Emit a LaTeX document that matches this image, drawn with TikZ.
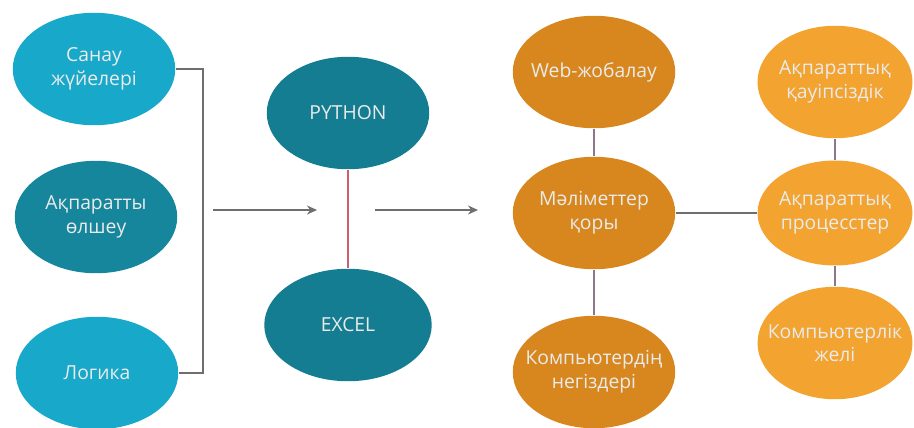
\documentclass[tikz,border=0pt]{standalone}
\usepackage{fontspec}
\setmainfont{Open Sans}
\usepackage{tikz}
\usetikzlibrary{positioning, arrows.meta, shapes.geometric, calc}
\usepackage{xcolor}
\definecolor{skycyan}{RGB}{24, 168, 202}
\definecolor{deepteal}{RGB}{22, 134, 156}
\definecolor{darkteal}{RGB}{21, 125, 145}
\definecolor{darkorange}{RGB}{215, 135, 30}
\definecolor{lightorange}{RGB}{242, 163, 48}
\definecolor{linegray}{RGB}{110, 110, 110}
\definecolor{linered}{RGB}{205, 95, 110}
\definecolor{lineplum}{RGB}{140, 120, 140}

\begin{document}
\begin{tikzpicture}[
  x=0.02cm, y=-0.02cm,
  blob/.style={ellipse, minimum width=3.25cm, minimum height=2.25cm, inner xsep=-1.5cm, inner ysep=-0.5cm, align=center, text=white!92!black, font=\fontsize{11}{13.5}\selectfont},
  cyanblob/.style={blob, fill=skycyan},
  tealblob/.style={blob, fill=deepteal},
  progblob/.style={blob, fill=darkteal},
  oblob/.style={blob, fill=darkorange},
  lblob/.style={blob, fill=lightorange},
  link/.style={line width=0.9pt, draw=linegray},
  arr/.style={-{Stealth[length=2mm, width=1.8mm]}, line width=0.9pt, draw=linegray}
]
\useasboundingbox (0,0) rectangle (914,427);

% left column
\node[cyanblob] (san) at (94,69) {Санау\\жүйелері};
\node[tealblob] (olsh) at (96,217) {Ақпаратты\\өлшеу};
\node[cyanblob] (log) at (97,373) {Логика};

% middle
\node[progblob] (py) at (348,113) {PYTHON};
\node[progblob, minimum width=3.35cm] (xl) at (348,325) {EXCEL};

% right part
\node[oblob] (web) at (594,72) {Web-жобалау};
\node[oblob] (db) at (594,213) {Мәліметтер\\қоры};
\node[oblob] (komp) at (594,372) {Компьютердің\\негіздері};
\node[lblob, minimum width=3.1cm] (sec) at (835,82) {Ақпараттық\\қауіпсіздік};
\node[lblob, minimum width=3.1cm, minimum height=2.1cm] (proc) at (835,213) {Ақпараттық\\процесстер};
\node[lblob, minimum width=3.1cm] (net) at (835,343) {Компьютерлік\\желі};

\coordinate (brk) at (203,220);
\coordinate (a1s) at (213,210);
\coordinate (a1e) at (317,210);
\coordinate (a2s) at (375,210);
\coordinate (a2e) at (478,210);

\draw[link] (san.east) -| (brk) |- (log.east);
\draw[arr] (a1s) -- (a1e);
\draw[arr] (a2s) -- (a2e);
\draw[link, draw=linered, line width=0.6pt] (py) -- (xl);
\draw[link, draw=lineplum] (web) -- (db);
\draw[link, draw=lineplum] (db) -- (komp);
\draw[link] (db) -- (proc);
\draw[link, draw=lineplum] (sec) -- (proc);
\draw[link, draw=lineplum] (proc) -- (net);
\end{tikzpicture}
\end{document}
